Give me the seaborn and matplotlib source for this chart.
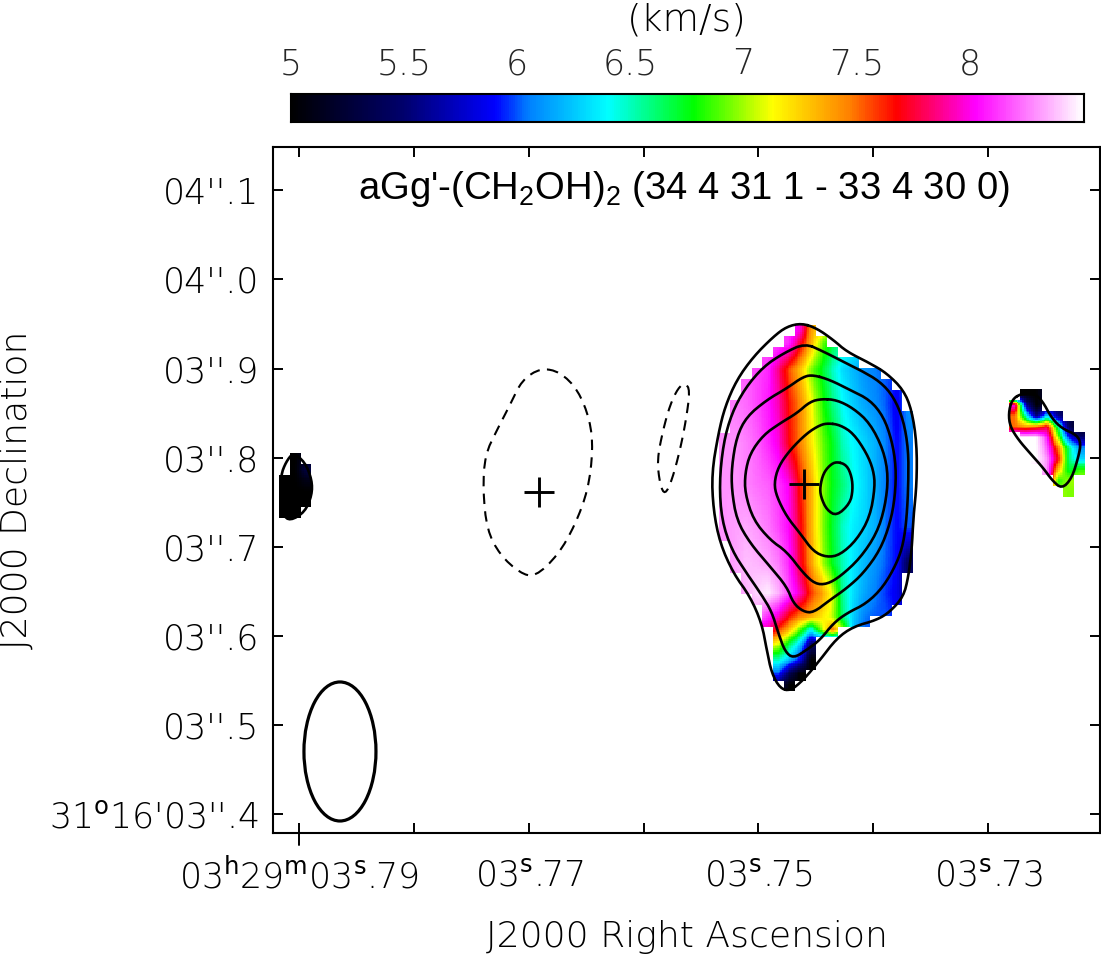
import numpy as np
import matplotlib
matplotlib.use("Agg")
import matplotlib.pyplot as plt
from matplotlib.colors import LinearSegmentedColormap
from matplotlib.patches import Ellipse
import seaborn as sns

# ---- colour scale (km/s)
cmap_levels = [5.0, 5.5, 5.9, 6.05, 6.4, 6.78, 7.13, 7.47, 7.68, 8.03, 8.5]
cmap_colors = ["#000000", "#00006e", "#0000ff", "#0080ff", "#00ffff", "#00ff00",
               "#ffff00", "#ff8000", "#ff0000", "#ff00ff", "#ffffff"]
cbar_ticks = [5, 5.5, 6, 6.5, 7, 7.5, 8]
cbar_labels = ["5", "5.5", "6", "6.5", "7", "7.5", "8"]
vmin, vmax = 5.0, 8.5

# sky offsets: RA in ms of time from 03h29m03s.79, Dec in mas from the map origin
ra_ticks = [0, 20, 40, 60]
ra_minor = [10, 30, 50]
ra_labels = [r"03$^{\mathrm{h}}$29$^{\mathrm{m}}$03$^{\mathrm{s}}$.79",
             r"03$^{\mathrm{s}}$.77", r"03$^{\mathrm{s}}$.75", r"03$^{\mathrm{s}}$.73"]
dec_ticks = [-4.4, 96.2, 196.8, 297.4, 398.0, 498.6, 599.2, 699.8]
dec_labels = [r"31$^{\mathrm{o}}$16'03''.4", "03''.5", "03''.6", "03''.7", "03''.8",
              "03''.9", "04''.0", "04''.1"]

# ---- velocity field, main source: values at sampled declinations
main_dec = [542.1, 527.1, 497.0, 459.4, 414.2, 367.2, 320.2, 278.8, 244.9, 218.6,
            203.5, 188.5, 169.7, 154.6, 141.4]
main_vel = [
 [8.2,8.2,8.2,8.2,8.2,8.15,8.1,8.0,7.4,7.2,7.0,6.8,6.6,6.4,6.2,6.1,6.0,6.0],
 [8.2,8.2,8.2,8.2,8.2,8.15,8.1,7.75,7.35,6.95,6.7,6.5,6.4,6.3,6.2,6.1,6.0,6.0],
 [8.2,8.2,8.2,8.15,8.1,7.85,7.55,7.3,6.95,6.75,6.5,6.3,6.2,6.1,6.05,6.0,5.95,6.0],
 [8.25,8.25,8.22,8.15,8.07,7.92,7.65,7.45,7.15,6.85,6.6,6.4,6.25,6.15,6.08,6.0,5.85,6.1],
 [8.3,8.3,8.26,8.2,8.1,7.98,7.68,7.47,7.2,6.95,6.75,6.5,6.38,6.28,6.18,6.05,5.9,6.05],
 [8.3,8.3,8.27,8.23,8.2,8.12,8.0,7.65,7.35,7.0,6.75,6.6,6.42,6.3,6.18,6.03,5.9,6.05],
 [8.3,8.32,8.34,8.3,8.25,8.15,8.02,7.72,7.35,7.0,6.72,6.48,6.35,6.28,6.18,6.02,5.9,6.0],
 [8.3,8.33,8.38,8.36,8.33,8.25,8.08,7.75,7.4,7.05,6.75,6.5,6.33,6.2,6.1,6.0,5.9,5.4],
 [8.3,8.3,8.35,8.42,8.47,8.35,8.15,7.95,7.6,7.4,7.1,6.55,6.3,6.15,6.05,5.95,5.85,5.5],
 [8.3,8.3,8.3,8.3,8.1,7.95,7.65,7.45,7.35,7.2,7.05,6.6,6.25,6.05,6.0,6.0,5.9,5.9],
 [7.9,7.9,7.9,7.9,7.9,7.6,7.3,6.9,6.4,7.0,7.5,7.0,6.2,6.0,6.0,6.0,5.9,5.9],
 [7.3,7.3,7.3,7.3,7.3,7.1,6.7,6.3,5.5,5.5,5.5,5.5,5.5,5.5,5.5,5.5,5.5,5.5],
 [6.5,6.5,6.5,6.5,6.5,6.5,6.2,5.85,5.0,5.0,5.0,5.0,5.0,5.0,5.0,5.0,5.0,5.0],
 [6.0,6.0,6.0,6.0,6.0,6.0,5.4,5.0,5.0,5.0,5.0,5.0,5.0,5.0,5.0,5.0,5.0,5.0],
 [5.4,5.4,5.4,5.4,5.4,5.4,5.0,5.0,5.0,5.0,5.0,5.0,5.0,5.0,5.0,5.0,5.0,5.0],
]
# first / last valid map column in each map row
main_first = [7,6,5,4,3,2,2,1,1,1,0,0,0,0,0,0,0,0,0,0,1,1,1,2,2,3,4,4,5,5,5,5,5,6]
main_last = [8,9,10,12,14,15,16,16,17,17,17,17,17,17,17,17,17,17,17,17,17,17,17,16,16,16,15,13,10,8,8,8,7,6]

east_vel = [
 [5.0,5.0,5.0,5.3,5.3,5.3,5.3],
 [8.0,5.7,5.0,5.3,5.3,5.3,5.3],
 [7.5,6.5,5.5,6.3,5.6,5.3,5.3],
 [7.5,7.4,7.5,7.75,6.6,5.4,5.1],
 [8.5,8.5,8.5,8.1,7.0,5.9,5.5],
 [8.5,8.5,8.5,8.2,7.5,6.6,6.1],
 [8.5,8.5,8.5,8.3,7.7,6.6,6.3],
 [8.5,8.5,8.4,8.3,7.3,6.7,6.85],
 [8.3,8.3,8.3,8.3,6.8,7.0,7.0],
 [7.0,7.0,7.0,7.0,7.0,6.95,6.95],
]
east_first = [1,0,0,0,1,2,2,3,4,5]
east_last = [2,2,4,5,6,6,6,6,5,5]

west_vel = [
 [5.0,5.0,5.2],
 [5.0,5.0,5.3],
 [5.0,5.0,5.1],
 [5.0,5.0,5.0],
 [5.0,5.0,5.0],
 [5.0,5.0,5.0],
]
west_first = [1,1,0,0,0,0]
west_last = [1,2,2,2,2,1]

# ---- integrated-intensity contours (RA ms, Dec mas)
c1_ra = [43.77,45.08,46.53,47.69,49.72,51.18,52.63,53.35,53.79,53.79,53.50,53.35,53.06,52.63,51.47,50.31,48.27,46.82,45.37,43.92,42.76,41.89,41.16,40.73,40.29,39.28,37.82,36.66,36.08,35.94,36.52,37.10,38.11,39.57,41.31,42.47]
c1_dec = [549.7,544.0,530.8,517.7,504.5,493.2,474.4,451.8,414.2,369.1,331.4,293.8,263.7,241.2,224.2,214.8,207.3,194.1,169.7,147.1,134.7,137.7,154.6,181.0,211.1,241.2,267.5,301.4,339.0,380.4,425.5,455.6,485.7,512.0,534.6,545.9]
c2_ra = [44.06,45.66,46.82,48.85,50.60,51.76,52.63,53.06,53.06,52.92,52.63,52.05,50.89,49.43,47.69,46.53,45.37,44.21,43.05,42.32,41.74,41.16,40.29,38.98,37.68,36.81,36.60,36.95,37.68,38.84,40.44,42.18]
c2_dec = [527.1,517.7,510.1,497.0,483.8,466.9,440.5,406.7,369.1,331.4,301.4,278.8,252.4,233.6,222.4,211.1,192.3,181.0,171.6,179.1,199.8,224.2,243.0,267.5,293.8,327.7,369.1,414.2,448.1,476.3,500.7,515.8]
c3_ra = [44.79,46.24,47.98,49.72,50.89,51.61,51.99,51.90,51.47,50.60,49.14,47.69,46.24,44.79,43.92,43.05,42.47,41.02,39.28,38.11,37.68,37.68,38.11,38.98,40.73,42.47,43.92]
c3_dec = [491.3,485.7,474.4,463.1,444.3,418.0,387.9,354.0,323.9,293.8,267.5,250.6,237.4,223.1,224.2,233.6,252.4,275.0,301.4,327.7,361.5,387.9,421.7,444.3,463.1,476.3,489.5]
c4_ra = [45.52,46.82,48.27,49.72,50.89,51.32,51.03,50.31,48.85,47.11,45.95,44.94,43.92,42.47,41.02,39.57,38.84,38.84,39.28,40.44,41.89,43.34,44.50]
c4_dec = [464.3,463.1,453.7,436.8,406.7,376.6,342.7,312.6,284.4,263.7,255.1,255.5,267.5,292.0,305.1,327.7,357.8,380.4,402.9,423.6,436.8,448.1,461.2]
c5_ra = [46.10,47.11,48.27,49.43,50.01,50.16,49.72,48.56,47.11,45.95,44.79,43.63,42.47,41.60,41.37,41.74,42.76,44.21,45.37]
c5_dec = [436.8,434.9,425.5,402.9,384.1,365.3,331.4,305.1,288.2,285.6,292.0,312.6,331.4,354.0,369.1,387.9,406.7,425.5,434.9]
c6_ra = [46.82,47.69,48.13,48.22,47.98,46.82,45.95,45.43,45.37,45.66,46.24]
c6_dec = [393.5,389.8,376.6,361.5,346.5,332.2,339.0,354.0,365.3,380.4,389.8]
east_ra = [62.79,62.07,61.78,61.92,62.65,63.66,64.82,65.55,66.42,67.29,67.87,68.08,67.73,66.42,65.55,64.68,63.95]
east_dec = [469.9,463.1,448.1,433.0,418.0,402.9,386.0,372.8,362.7,374.7,399.2,414.2,423.6,431.1,442.4,463.1,470.7]
west_ra = [-0.52,0.52,1.13,1.13,0.52,-0.78,-1.39,-1.65,-1.57,-1.13]
west_dec = [403.3,393.1,372.8,355.9,336.7,326.6,333.4,350.2,378.4,393.1]
neg1_ra = [21.07,22.73,24.30,25.34,25.60,25.17,24.04,22.56,20.55,19.25,17.50,16.37,16.02,16.20,17.24,18.37,19.42]
neg1_dec = [499.2,494.7,474.4,440.5,406.7,361.5,322.0,288.2,263.3,267.8,288.2,316.4,361.5,401.0,429.2,457.5,485.7]
neg2_ra = [33.61,34.05,33.70,33.18,32.48,31.87,31.44,31.18,31.70,32.31,33.01]
neg2_dec = [482.3,474.4,440.5,406.7,372.8,355.9,367.2,395.4,429.2,457.5,476.6]

star_ra = [43.98, 20.90]
star_dec = [368.3, 359.3]
beam_ra, beam_dec, beam_w, beam_h = 3.57, 66.4, 6.27, 156.9

# map geometry (one map cell in RA ms and Dec mas)
cell_ra, cell_dec = 0.938, 12.16

FIG_W, FIG_H = 1101, 958
sns.set_theme(style="white")
plt.rcParams["font.family"] = ["DejaVu Sans"]
plt.rcParams["mathtext.default"] = "regular"
plt.rcParams["axes.linewidth"] = 1.5
plt.rcParams["text.color"] = "black"
LIGHT = "light"
TS = 25
LS = 26

fig = plt.figure(figsize=(FIG_W / 100, FIG_H / 100), dpi=100)
ax = fig.add_axes([273 / FIG_W, 1 - 833 / FIG_H, 826.5 / FIG_W, 686 / FIG_H])
cmap = LinearSegmentedColormap.from_list(
    "vel", [((v - vmin) / (vmax - vmin), c) for v, c in zip(cmap_levels, cmap_colors)], N=512)

ax.set_xlim(-2.26, 69.7)
ax.set_ylim(-25.6, 748.6)


def chaikin(xs, ys, n=2):
    p = np.column_stack([xs, ys])
    for _ in range(n):
        q = np.roll(p, -1, axis=0)
        p = np.column_stack([0.75 * p + 0.25 * q, 0.25 * p + 0.75 * q]).reshape(-1, 2)
    return np.vstack([p, p[0]])


def draw_map(table, first, last, ra0, dec_top, row_dec=None, f=6):
    table = np.asarray(table, dtype=float)
    nrows, ncols = len(first), table.shape[1]
    if row_dec is None:
        row_pos = np.arange(nrows) + 0.5
    else:
        row_pos = (dec_top - np.asarray(row_dec)) / cell_dec
    fine = (np.arange(nrows * f) + 0.5) / f
    by_row = np.column_stack([np.interp(fine, row_pos, table[:, c]) for c in range(ncols)])
    fine_c = (np.arange(ncols * f) + 0.5) / f
    grid = np.vstack([np.interp(fine_c, np.arange(ncols) + 0.5, r) for r in by_row])
    mask = np.ones((nrows, ncols), dtype=bool)
    for r, (a, b) in enumerate(zip(first, last)):
        mask[r, a:b + 1] = False
    mask = np.repeat(np.repeat(mask, f, axis=0), f, axis=1)
    w, h = ncols * cell_ra, nrows * cell_dec
    sub = ax.inset_axes([ra0, dec_top - h, w, h], transform=ax.transData, zorder=1)
    sns.heatmap(grid, mask=mask, ax=sub, cmap=cmap, vmin=vmin, vmax=vmax, cbar=False,
                xticklabels=False, yticklabels=False)
    sub.axis("off")


draw_map(main_vel, main_first, main_last, 36.6, 547.7, row_dec=main_dec)
draw_map(east_vel, east_first, east_last, 61.86, 475.5)
draw_map(west_vel, west_first, west_last, -1.74, 403.0)

for xs, ys in [(c1_ra, c1_dec), (c2_ra, c2_dec), (c3_ra, c3_dec), (c4_ra, c4_dec),
               (c5_ra, c5_dec), (c6_ra, c6_dec), (east_ra, east_dec), (west_ra, west_dec)]:
    p = chaikin(xs, ys)
    ax.plot(p[:, 0], p[:, 1], color="black", lw=1.9, zorder=3)
for xs, ys in [(neg1_ra, neg1_dec), (neg2_ra, neg2_dec)]:
    p = chaikin(xs, ys)
    ax.plot(p[:, 0], p[:, 1], color="black", lw=1.5, ls=(0, (5, 3.5)), zorder=3)

ax.plot(star_ra, star_dec, ls="none", marker="+", ms=21.5, mew=2.1, color="black", zorder=4)
ax.add_patch(Ellipse((beam_ra, beam_dec), beam_w, beam_h, fill=False, ec="black", lw=2.3, zorder=3))

ax.set_xticks(ra_ticks)
ax.set_xticklabels(ra_labels, fontsize=TS, fontweight=LIGHT)
ax.set_xticks(ra_minor, minor=True)
ax.set_yticks(dec_ticks)
ax.set_yticklabels(dec_labels, fontsize=TS, fontweight=LIGHT)
ax.tick_params(axis="both", which="both", direction="in", top=True, right=True, bottom=True,
               left=True, length=7.4, width=1.4, color="black", labelcolor="black")
ax.tick_params(axis="x", which="major", pad=18)
ax.tick_params(axis="y", which="major", pad=10)
ax.plot([0, 0], [-25.6, -39.0], color="black", lw=1.4, clip_on=False, zorder=5)
for s in ax.spines.values():
    s.set_color("black")
    s.set_linewidth(1.5)
    s.set_visible(True)

fig.text(687 / FIG_W, 1 - 937 / FIG_H, "J2000 Right Ascension", fontsize=LS, fontweight=LIGHT,
         ha="center", va="center")
fig.text(17 / FIG_W, 1 - 490 / FIG_H, "J2000 Declination", fontsize=LS, fontweight=LIGHT,
         rotation=90, ha="center", va="center")
ax.text(684 / FIG_W, 1 - 189 / FIG_H, r"aGg'-(CH$_2$OH)$_2$ (34 4 31 1 - 33 4 30 0)",
        transform=fig.transFigure, family=["Liberation Sans"], fontsize=27.5, ha="center", va="center",
        zorder=6)

# ---- colour bar
cax = fig.add_axes([290.5 / FIG_W, 1 - 122 / FIG_H, 793 / FIG_W, 28 / FIG_H])
gradient = np.linspace(vmin, vmax, 400)[None, :]
sns.heatmap(gradient, ax=cax, cmap=cmap, vmin=vmin, vmax=vmax, cbar=False,
            xticklabels=False, yticklabels=False)
cax.set_yticks([])
cax.set_xticks([(v - vmin) / (vmax - vmin) * gradient.shape[1] for v in cbar_ticks])
cax.set_xticklabels(cbar_labels, fontsize=TS, fontweight=LIGHT)
cax.tick_params(axis="x", bottom=False, top=True, labelbottom=False, labeltop=True,
                direction="in", length=3, width=1.0, color="black", pad=9)
for s in cax.spines.values():
    s.set_visible(True)
    s.set_color("black")
    s.set_linewidth(1.5)
fig.text(687 / FIG_W, 1 - 20 / FIG_H, "(km/s)", fontsize=27, fontweight=LIGHT, ha="center", va="center")

fig.savefig("out.png", dpi=100, facecolor="white")
